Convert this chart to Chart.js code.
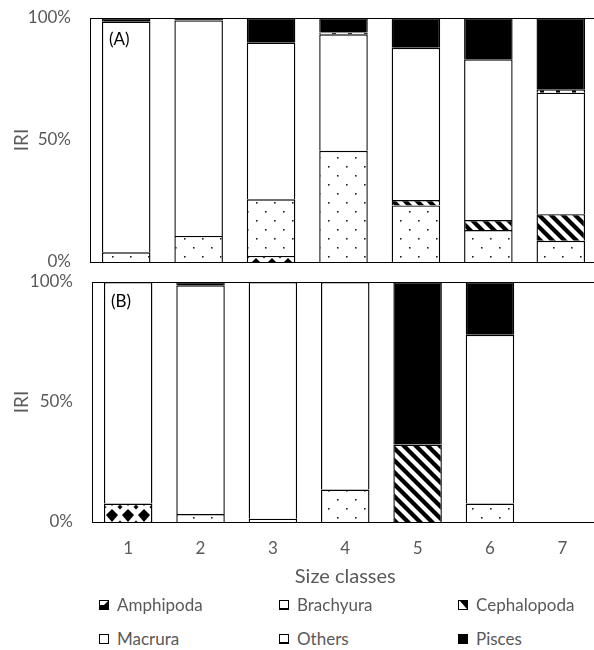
<!DOCTYPE html>
<html>
<head>
<meta charset="utf-8">
<script src="https://cdn.jsdelivr.net/npm/chart.js@4.4.0/dist/chart.umd.min.js"></script>
<style>
  html, body { margin: 0; padding: 0; background: #fff; width: 594px; height: 650px; overflow: hidden; }
  #chartA { position: absolute; left: 0; top: 0; }
  #chartB { position: absolute; left: 0; top: 270px; }
  .item { position: absolute; font-family: Lato, sans-serif; font-size: 17px; color: #595959; line-height: 20px; white-space: nowrap; }
  .item canvas { position: absolute; left: 0; top: 5px; }
  .item span { position: absolute; left: 18px; top: 0; }
</style>
</head>
<body>
<canvas id="chartA" width="600" height="272"></canvas>
<canvas id="chartB" width="600" height="325"></canvas>
<div id="legend"></div>

<script>
const sizeClasses = ['1', '2', '3', '4', '5', '6', '7'];
const preyGroups = ['Amphipoda', 'Brachyura', 'Cephalopoda', 'Macrura', 'Others', 'Pisces'];
const yTicks = [0, 50, 100];

// panel (A), % IRI per size class
const amphipodaA   = [0,    0,    2.5,  0,    0,    0,    0];
const brachyuraA   = [4,    10.7, 23.2, 45.6, 23.2, 13.1, 8.7];
const cephalopodaA = [0,    0,    0,    0,    2.2,  4.1,  10.9];
const macruraA     = [94.5, 88.3, 64.2, 47.7, 62.4, 65.9, 49.8];
const othersA      = [0,    0,    0,    0.8,  0,    0,    1.4];
const piscesA      = [1.5,  1,    10.1, 5.9,  12.2, 16.9, 29.2];

// panel (B)
const amphipodaB   = [7.7,  0,    0,    0,    0,    0,    0];
const brachyuraB   = [0,    3.3,  1.4,  13.5, 0,    7.7,  0];
const cephalopodaB = [0,    0,    0,    0,    32.3, 0,    0];
const macruraB     = [92.3, 95.3, 98.6, 86.5, 0,    70.3, 0];
const othersB      = [0,    0,    0,    0,    0,    0,    0];
const piscesB      = [0,    1.4,  0,    0,    67.7, 22,   0];

const textGray = '#595959';

function tile(w, h, draw) {
  const c = document.createElement('canvas');
  c.width = w; c.height = h;
  const g = c.getContext('2d');
  g.fillStyle = '#fff';
  g.fillRect(0, 0, w, h);
  g.fillStyle = '#000';
  g.strokeStyle = '#000';
  draw(g);
  return c;
}

const tiles = {
  amphipoda: tile(16, 16, g => {
    g.beginPath();
    g.moveTo(8, 2); g.lineTo(14, 8); g.lineTo(8, 15); g.lineTo(2, 8);
    g.closePath(); g.fill();
    [[0, 0], [16, 0], [0, 16], [16, 16]].forEach(([x, y]) => {
      g.beginPath();
      g.moveTo(x, y - 2.5); g.lineTo(x + 2.5, y); g.lineTo(x, y + 2.5); g.lineTo(x - 2.5, y);
      g.closePath(); g.fill();
    });
  }),
  brachyura: tile(18, 18, g => {
    g.fillStyle = '#222';
    g.fillRect(4, 4, 1.6, 1.6);
    g.fillRect(13, 13, 1.6, 1.6);
  }),
  cephalopoda: tile(12, 12, g => {
    g.lineWidth = 4.2;
    [-12, 0, 12].forEach(o => {
      g.beginPath(); g.moveTo(o - 2, -2); g.lineTo(o + 14, 14); g.stroke();
    });
  }),
  others: tile(16, 4, g => {
    g.fillRect(12, 0, 4, 4);
  })
};

function makeFills(ctx, shiftY) {
  const amph = ctx.createPattern(tiles.amphipoda, 'repeat');
  amph.setTransform(new DOMMatrix().translate(8, shiftY));
  return [
    amph,
    ctx.createPattern(tiles.brachyura, 'repeat'),
    ctx.createPattern(tiles.cephalopoda, 'repeat'),
    '#ffffff',
    ctx.createPattern(tiles.others, 'repeat'),
    '#000000'
  ];
}

function makeSets(ctx, values, shiftY) {
  const fills = makeFills(ctx, shiftY);
  return preyGroups.map((name, i) => ({
    label: name,
    data: values[i],
    backgroundColor: fills[i],
    borderColor: '#000',
    borderWidth: 1.4,
    barPercentage: 0.67,
    categoryPercentage: 1
  }));
}

// top edge of the plot box + panel letter
const framePlugin = {
  id: 'frame',
  afterDatasetsDraw(chart, args, opts) {
    const { ctx, chartArea } = chart;
    ctx.save();
    ctx.strokeStyle = '#000';
    ctx.lineWidth = 1;
    ctx.beginPath();
    ctx.moveTo(chartArea.left, chartArea.top + 0.5);
    ctx.lineTo(chartArea.right, chartArea.top + 0.5);
    ctx.stroke();
    ctx.fillStyle = '#000';
    ctx.font = '17px Lato';
    ctx.textBaseline = 'middle';
    ctx.fillText(opts.text, chartArea.left + opts.dx, chartArea.top + opts.dy);
    ctx.restore();
  }
};

function makeOptions(axisWidth, pad, showX, panelText, dy) {
  return {
    responsive: false,
    animation: false,
    layout: { padding: pad },
    plugins: {
      legend: { display: false },
      tooltip: { enabled: false },
      frame: { text: panelText, dx: 19, dy: dy }
    },
    scales: {
      x: {
        stacked: true,
        afterFit: s => { if (showX) s.height = 68; },
        grid: { display: false, drawTicks: false },
        border: { display: true, color: '#000', width: 1 },
        ticks: { display: showX, color: textGray, font: { family: 'Lato', size: 17 }, padding: 16, maxRotation: 0 },
        title: {
          display: showX, text: 'Size classes', color: textGray,
          font: { family: 'Lato', size: 20 }, padding: { top: 0, bottom: 1 }
        }
      },
      y: {
        stacked: true,
        min: 0,
        max: 100,
        afterFit: s => { s.width = axisWidth; s.paddingTop = 0; s.paddingBottom = 0; },
        afterBuildTicks: s => { s.ticks = yTicks.map(v => ({ value: v })); },
        grid: { display: false, drawTicks: false },
        border: { display: true, color: '#000', width: 1 },
        ticks: { color: textGray, font: { family: 'Lato', size: 17 }, padding: 19, callback: v => v + '%' },
        title: {
          display: true, text: 'IRI', color: textGray,
          font: { family: 'Lato', size: 19 }, padding: { top: 10, bottom: 0 }
        }
      }
    }
  };
}

const ctxA = document.getElementById('chartA').getContext('2d');
new Chart(ctxA, {
  type: 'bar',
  data: {
    labels: sizeClasses,
    datasets: makeSets(ctxA, [amphipodaA, brachyuraA, cephalopodaA, macruraA, othersA, piscesA], 0)
  },
  options: makeOptions(90, { top: 18, bottom: 10, left: 0, right: 3 }, false, '(A)', 22),
  plugins: [framePlugin]
});

const ctxB = document.getElementById('chartB').getContext('2d');
new Chart(ctxB, {
  type: 'bar',
  data: {
    labels: sizeClasses,
    datasets: makeSets(ctxB, [amphipodaB, brachyuraB, cephalopodaB, macruraB, othersB, piscesB], 13)
  },
  options: makeOptions(92, { top: 12, bottom: 5, left: 0, right: 1.5 }, true, '(B)', 20),
  plugins: [framePlugin]
});

// legend: two rows of three
const legendPos = [[99, 595], [279, 595], [458, 595], [99, 629], [279, 629], [458, 629]];

function drawMarker(g, i) {
  g.fillStyle = '#fff';
  g.fillRect(0, 0, 10, 10);
  g.fillStyle = '#000';
  if (i === 0) {
    g.fillRect(1, 5, 8, 4);
    g.beginPath(); g.moveTo(9, 1); g.lineTo(9, 5); g.lineTo(5, 5); g.closePath(); g.fill();
  } else if (i === 1 || i === 4) {
    g.fillRect(1, 8, 8, 1.5);
  } else if (i === 2) {
    g.beginPath(); g.moveTo(2, 1); g.lineTo(9, 1); g.lineTo(9, 9); g.closePath(); g.fill();
  } else if (i === 5) {
    g.fillRect(0, 0, 10, 10);
  }
  g.strokeStyle = '#000';
  g.lineWidth = 1;
  g.strokeRect(0.5, 0.5, 9, 9);
}

const legend = document.getElementById('legend');
preyGroups.forEach((name, i) => {
  const item = document.createElement('div');
  item.className = 'item';
  item.style.left = legendPos[i][0] + 'px';
  item.style.top = legendPos[i][1] + 'px';
  const c = document.createElement('canvas');
  c.width = 10; c.height = 10;
  drawMarker(c.getContext('2d'), i);
  const s = document.createElement('span');
  s.textContent = name;
  item.appendChild(c);
  item.appendChild(s);
  legend.appendChild(item);
});
</script>
</body>
</html>
